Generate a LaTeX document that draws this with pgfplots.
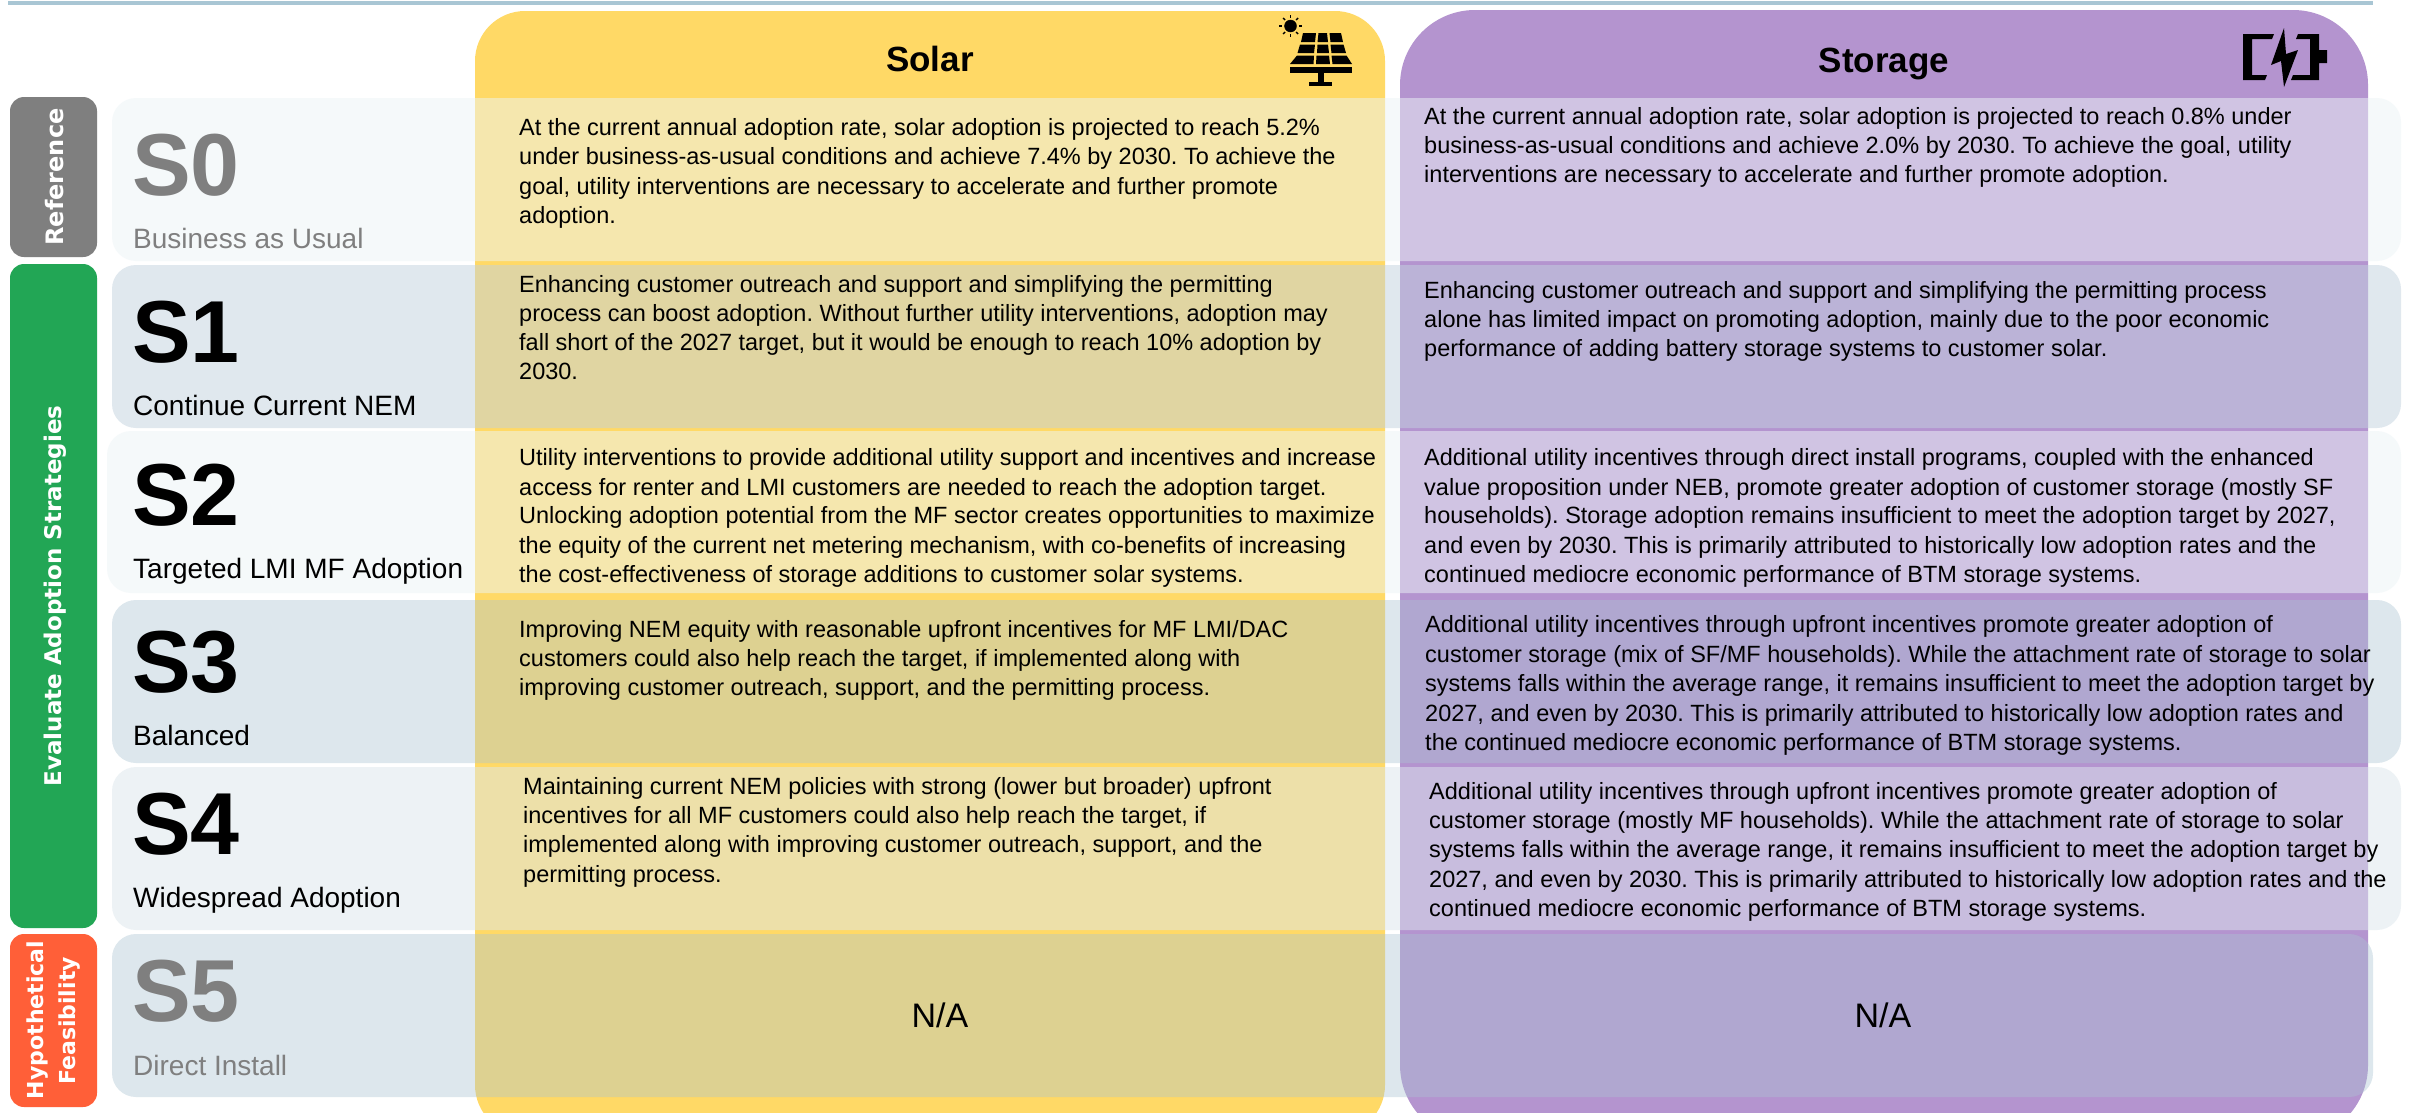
\documentclass[border=0pt]{standalone}
\usepackage{fontspec}
\usepackage{pgfplots}
\pgfplotsset{compat=1.18}
\setmainfont{Liberation Sans}
\newfontfamily\djv{DejaVu Sans}
\frenchspacing
\definecolor{solarc}{HTML}{FFD966}
\definecolor{storc}{HTML}{B494CF}
\definecolor{rowA}{RGB}{237,245,247}
\definecolor{rowB}{RGB}{195,211,223}
\definecolor{rowD}{RGB}{170,197,210}
\definecolor{rowE}{RGB}{221,231,237}
\definecolor{greyS}{HTML}{7F7F7F}
\definecolor{greenS}{HTML}{22A655}
\definecolor{orangeS}{HTML}{FF5F38}
\definecolor{ruleC}{RGB}{169,198,212}
\newcommand{\Rect}[6]{\addplot[draw=none,fill=#5,rounded corners=#6pt] coordinates {(#1,#2)(#3,#2)(#3,#4)(#1,#4)} --cycle;}
% top, bottom, left, right, colour, opacity
\newcommand{\Row}[6]{\addplot[draw=none,fill=#5,fill opacity=#6,rounded corners=24pt] coordinates {(#3,#1)(#4,#1)(#4,#2)(#3,#2)} --cycle;}
\newcommand{\Poly}[2]{\addplot[draw=none,fill=#1] coordinates {#2} --cycle;}
\newcommand{\bodyf}{\fontsize{23.5}{28}\selectfont}
\newcommand{\B}[3]{\node[anchor=base west,inner sep=0pt,font=\bodyf] at (axis cs:#1,#2) {#3};}
\newcommand{\Sname}[3]{%
  \node[anchor=base west,inner sep=0pt,text=#3,font=\fontsize{88}{90}\selectfont\bfseries] at (axis cs:132,#1) {#2};}
\newcommand{\Ssub}[3]{%
  \node[anchor=base west,inner sep=0pt,text=#3,font=\fontsize{28}{32}\selectfont] at (axis cs:133,#1) {#2};}
\begin{document}
\begin{tikzpicture}
\begin{axis}[name=a,hide axis,scale only axis,width=2414pt,height=1112pt,
  xmin=0,xmax=2414,ymin=0,ymax=1112,y dir=reverse,clip=true]
% background
\Rect{0}{0}{2414}{1112}{white}{0}
% top rule
\Rect{8}{1}{2373}{5}{ruleC}{0}
% columns
\Rect{475}{11}{1385}{1135}{solarc}{50}
\Rect{1400}{10}{2368}{1140}{storc}{75}
% rows
\Row{98}{261}{112}{2401}{rowA}{.5}
\Row{265}{428}{112}{2401}{rowB}{.5}
\Row{431}{593}{107}{2401}{rowA}{.5}
\Row{600}{763}{112}{2401}{rowD}{.4}
\Row{767}{930}{112}{2401}{rowE}{.5}
\Row{934}{1097}{112}{2373}{rowD}{.4}
% side tabs
\Rect{10}{97}{97}{257}{greyS}{14}
\Rect{10}{264}{97}{928}{greenS}{14}
\Rect{10}{934}{97}{1107}{orangeS}{14}
\node[rotate=90,text=white,font=\djv\bfseries\fontsize{24}{26}\selectfont] at (axis cs:55,177) {Reference};
\node[rotate=90,text=white,font=\djv\bfseries\fontsize{23}{26}\selectfont] at (axis cs:55,596) {Evaluate Adoption Strategies};
\node[rotate=90,text=white,font=\djv\bfseries\fontsize{22}{24}\selectfont] at (axis cs:38,1020) {Hypothetical};
\node[rotate=90,text=white,font=\djv\bfseries\fontsize{22}{24}\selectfont] at (axis cs:70,1021) {Feasibility};
% names
\Sname{195}{S0}{greyS}\Ssub{248}{Business as Usual}{greyS}
\Sname{362}{S1}{black}\Ssub{415}{Continue Current NEM}{black}
\Sname{525}{S2}{black}\Ssub{578}{Targeted LMI MF Adoption}{black}
\Sname{692}{S3}{black}\Ssub{745}{Balanced}{black}
\Sname{854}{S4}{black}\Ssub{907}{Widespread Adoption}{black}
\Sname{1021}{S5}{greyS}\Ssub{1075}{Direct Install}{greyS}
% headers
\node[font=\bfseries\fontsize{35}{38}\selectfont] at (axis cs:930,59) {Solar};
\node[font=\bfseries\fontsize{35}{38}\selectfont] at (axis cs:1884,64) {Storage};
% solar text
\B{519}{135}{At the current annual adoption rate, solar adoption is projected to reach 5.2\%}
\B{519}{164}{under business-as-usual conditions and achieve 7.4\% by 2030. To achieve the}
\B{519}{194}{goal, utility interventions are necessary to accelerate and further promote}
\B{519}{223}{adoption.}
\B{519}{292}{Enhancing customer outreach and support and simplifying the permitting}
\B{519}{321}{process can boost adoption. Without further utility interventions, adoption may}
\B{519}{350}{fall short of the 2027 target, but it would be enough to reach 10\% adoption by}
\B{519}{379}{2030.}
\B{519}{465}{Utility interventions to provide additional utility support and incentives and increase}
\B{519}{495}{access for renter and LMI customers are needed to reach the adoption target.}
\B{519}{523}{Unlocking adoption potential from the MF sector creates opportunities to maximize}
\B{519}{553}{the equity of the current net metering mechanism, with co-benefits of increasing}
\B{519}{582}{the cost-effectiveness of storage additions to customer solar systems.}
\B{519}{637}{Improving NEM equity with reasonable upfront incentives for MF LMI/DAC}
\B{519}{666}{customers could also help reach the target, if implemented along with}
\B{519}{695}{improving customer outreach, support, and the permitting process.}
\B{523}{794}{Maintaining current NEM policies with strong (lower but broader) upfront}
\B{523}{823}{incentives for all MF customers could also help reach the target, if}
\B{523}{852}{implemented along with improving customer outreach, support, and the}
\B{523}{882}{permitting process.}
\node[font=\fontsize{34}{36}\selectfont] at (axis cs:940,1015) {N/A};
% storage text
\B{1424}{124}{At the current annual adoption rate, solar adoption is projected to reach 0.8\% under}
\B{1424}{153}{business-as-usual conditions and achieve 2.0\% by 2030. To achieve the goal, utility}
\B{1424}{182}{interventions are necessary to accelerate and further promote adoption.}
\B{1424}{298}{Enhancing customer outreach and support and simplifying the permitting process}
\B{1424}{327}{alone has limited impact on promoting adoption, mainly due to the poor economic}
\B{1424}{356}{performance of adding battery storage systems to customer solar.}
\B{1424}{465}{Additional utility incentives through direct install programs, coupled with the enhanced}
\B{1424}{495}{value proposition under NEB, promote greater adoption of customer storage (mostly SF}
\B{1424}{523}{households). Storage adoption remains insufficient to meet the adoption target by 2027,}
\B{1424}{553}{and even by 2030. This is primarily attributed to historically low adoption rates and the}
\B{1424}{582}{continued mediocre economic performance of BTM storage systems.}
\B{1425}{632}{Additional utility incentives through upfront incentives promote greater adoption of}
\B{1425}{662}{customer storage (mix of SF/MF households). While the attachment rate of storage to solar}
\B{1425}{691}{systems falls within the average range, it remains insufficient to meet the adoption target by}
\B{1425}{721}{2027, and even by 2030. This is primarily attributed to historically low adoption rates and}
\B{1425}{750}{the continued mediocre economic performance of BTM storage systems.}
\B{1429}{799}{Additional utility incentives through upfront incentives promote greater adoption of}
\B{1429}{828}{customer storage (mostly MF households). While the attachment rate of storage to solar}
\B{1429}{857}{systems falls within the average range, it remains insufficient to meet the adoption target by}
\B{1429}{887}{2027, and even by 2030. This is primarily attributed to historically low adoption rates and the}
\B{1429}{916}{continued mediocre economic performance of BTM storage systems.}
\node[font=\fontsize{34}{36}\selectfont] at (axis cs:1883,1015) {N/A};
% solar icon
\addplot[only marks,mark=*,mark size=6pt,black] coordinates {(1290.5,26)};
\addplot[black,line width=1.4pt] coordinates {(1279,26)(1282,26)};
\addplot[black,line width=1.4pt] coordinates {(1299,26)(1302,26)};
\addplot[black,line width=1.4pt] coordinates {(1290.5,15)(1290.5,18)};
\addplot[black,line width=1.4pt] coordinates {(1290.5,34)(1290.5,37)};
\addplot[black,line width=1.4pt] coordinates {(1283,18)(1285,20)};
\addplot[black,line width=1.4pt] coordinates {(1296,32)(1298,34)};
\addplot[black,line width=1.4pt] coordinates {(1298,18)(1296,20)};
\addplot[black,line width=1.4pt] coordinates {(1285,32)(1283,34)};
\Poly{black}{(1303,33)(1316,33)(1315,42)(1301,42)}
\Poly{black}{(1318.5,33)(1327,33)(1328,42)(1317.5,42)}
\Poly{black}{(1329.5,33)(1341,33)(1343,42)(1330.5,42)}
\Poly{black}{(1300,44.5)(1315,44.5)(1314,53)(1297.5,53)}
\Poly{black}{(1317.5,44.5)(1328,44.5)(1329,53)(1317,53)}
\Poly{black}{(1330.5,44.5)(1343.5,44.5)(1346,53)(1331.5,53)}
\Poly{black}{(1297,55.5)(1314,55.5)(1313.5,64)(1290,64)}
\Poly{black}{(1316.5,55.5)(1329,55.5)(1330,64)(1316,64)}
\Poly{black}{(1331.5,55.5)(1346.5,55.5)(1352,64)(1332.5,64)}
\Poly{black}{(1290,67)(1352,67)(1352,73)(1290,73)}
\Poly{black}{(1318,73)(1324,73)(1324,82)(1318,82)}
\Poly{black}{(1309,82)(1332,82)(1332,86)(1309,86)}
% battery icon
\Poly{black}{(2243,34)(2274,34)(2272,39)(2252,39)(2252,75)(2267,75)(2265,80)(2243,80)}
\Poly{black}{(2298,34)(2319,34)(2319,50)(2327,50)(2327,63)(2319,63)(2319,80)(2291,80)(2293,75)(2310,75)(2310,39)(2296,39)}
\Poly{black}{(2284,28)(2271,65)(2281,61)(2284,87)(2298,50)(2286,54)}
\end{axis}
\pgfresetboundingbox
\path[use as bounding box] (a.south west) rectangle (a.north east);
\end{tikzpicture}
\end{document}
